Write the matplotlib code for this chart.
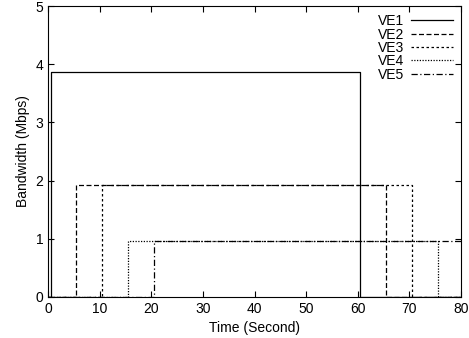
import matplotlib
matplotlib.use("Agg")
import matplotlib.pyplot as plt

plt.rcParams['font.family'] = ['Liberation Sans', 'DejaVu Sans']

# bandwidth step traces (time in s, bandwidth in Mbps)
ve1_t = [0, 0.5, 0.5, 60.5, 60.5, 80]
ve1_bw = [0, 0, 3.87, 3.87, 0, 0]
ve2_t = [0, 5.5, 5.5, 65.5, 65.5, 80]
ve2_bw = [0, 0, 1.93, 1.93, 0, 0]
ve3_t = [0, 10.5, 10.5, 70.5, 70.5, 80]
ve3_bw = [0, 0, 1.93, 1.93, 0, 0]
ve4_t = [0, 15.5, 15.5, 75.5, 75.5, 80]
ve4_bw = [0, 0, 0.96, 0.96, 0, 0]
ve5_t = [0, 20.5, 20.5, 80]
ve5_bw = [0, 0, 0.97, 0.97]

labels = ['VE1', 'VE2', 'VE3', 'VE4', 'VE5']
styles = ['-', (0, (4, 2)), (0, (2, 2)), (0, (1, 1.2)), (0, (5, 2, 1, 2))]

fig = plt.figure(figsize=(4.69, 3.38), dpi=100)
ax = fig.add_axes([48/469, 41/338, 413/469, 291/338])

series = [(ve1_t, ve1_bw), (ve2_t, ve2_bw), (ve3_t, ve3_bw),
          (ve4_t, ve4_bw), (ve5_t, ve5_bw)]
for (t, bw), lab, ls in zip(series, labels, styles):
    ax.plot(t, bw, color='black', linestyle=ls, linewidth=0.9, label=lab)

ax.set_xlim(0, 80)
ax.set_ylim(0, 5)
ax.set_xticks(range(0, 81, 10))
ax.set_yticks(range(0, 6))
ax.tick_params(direction='in', top=True, right=True, labelsize=10, length=4)
ax.set_xlabel("Time (Second)", fontsize=10)
ax.set_ylabel("Bandwidth (Mbps)", fontsize=10)

ax.legend(loc='upper right', frameon=False, markerfirst=False, fontsize=10,
          handlelength=3.0, labelspacing=-0.05, borderaxespad=0.2, handletextpad=0.5)

fig.savefig('out.png', dpi=100)
